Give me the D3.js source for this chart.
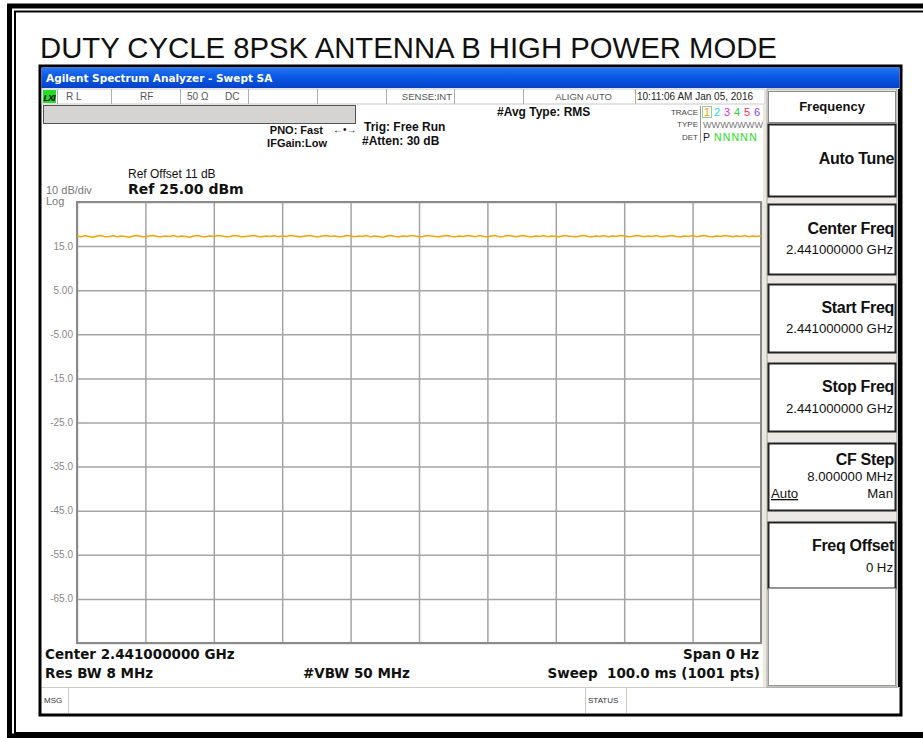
<!DOCTYPE html>
<html>
<head>
<meta charset="utf-8">
<script src="https://cdn.jsdelivr.net/npm/d3@7"></script>
<style>
  html, body { margin: 0; background: #fff; overflow: hidden; }
  svg { display: block; font-family: "Liberation Sans", Arial, sans-serif; }
  .tah { font-family: "DejaVu Sans", Verdana, sans-serif; }
</style>
</head>
<body>
<svg id="chart" width="923" height="738"></svg>
<script>
// ---- data ----
const titulo = "DUTY CYCLE 8PSK ANTENNA B HIGH POWER MODE";
const ref_nivel = 25;          // dBm, top of grid
const db_por_div = 10;
const qde_divs = 10;
const y_ticks = [15, 5, -5, -15, -25, -35, -45, -55, -65];
const y_labels = ["15.0", "5.00", "-5.00", "-15.0", "-25.0", "-35.0", "-45.0", "-55.0", "-65.0"];
const sweep_ms = 100;
// trace 1 (zero span, RMS) ~ 17.3 dBm, small ripple
const trace_dbm = [
  17.3, 17.1, 17.4, 17.2, 17.0, 17.3, 17.4, 17.1, 17.2, 17.4,
  17.1, 17.3, 17.2, 17.0, 17.3, 17.4, 17.2, 17.1, 17.3, 17.4,
  17.2, 17.1, 17.3, 17.2, 17.4, 17.1, 17.3, 17.2, 17.0, 17.3,
  17.4, 17.2, 17.1, 17.3, 17.2, 17.4, 17.3, 17.1, 17.2, 17.4,
  17.3, 17.1, 17.2, 17.3, 17.4, 17.2, 17.1, 17.3, 17.2, 17.4,
  17.1, 17.3, 17.2, 17.4, 17.3, 17.1, 17.2, 17.3, 17.4, 17.2,
  17.1, 17.3, 17.4, 17.2, 17.3, 17.1, 17.2, 17.4, 17.3, 17.1,
  17.3, 17.2, 17.4, 17.1, 17.3, 17.2, 17.0, 17.3, 17.4, 17.2,
  17.1, 17.3, 17.2, 17.4, 17.3, 17.1, 17.2, 17.4, 17.3, 17.2,
  17.1, 17.3, 17.4, 17.2, 17.1, 17.3, 17.2, 17.4, 17.3, 17.1,
  17.4, 17.2, 17.1, 17.3, 17.4, 17.1, 17.2, 17.4, 17.3, 17.1,
  17.3, 17.4, 17.2, 17.1, 17.3, 17.2, 17.4, 17.1, 17.3, 17.2,
  17.1, 17.4, 17.3, 17.2, 17.1, 17.3, 17.4, 17.2, 17.1, 17.3,
  17.2, 17.4, 17.1, 17.3, 17.2, 17.4, 17.3, 17.1, 17.2, 17.4,
  17.3, 17.1, 17.3, 17.2, 17.4, 17.1, 17.2, 17.3, 17.4, 17.2,
  17.1, 17.3, 17.2, 17.4, 17.1, 17.3, 17.4, 17.2, 17.1, 17.3,
  17.2, 17.4, 17.3, 17.1, 17.3, 17.2, 17.4, 17.1, 17.3, 17.2, 17.3
];
const status_itens = [
  {txt: "R L", x: 66}, {txt: "RF", x: 140}, {txt: "50 Ω", x: 187}, {txt: "DC", x: 225}
];
const status_sep = [57, 111, 180, 248, 317, 386, 454, 523, 635];
const trace_nums = ["1", "2", "3", "4", "5", "6"];
const trace_cores = ["#f0a000", "#20d8e8", "#e030d0", "#30d030", "#f03060", "#8040f0"];
const softkeys = [
  {y0: 124, y1: 196, label: "Auto Tune", ly: 164, vals: []},
  {y0: 204, y1: 274, label: "Center Freq", ly: 234, vals: [["2.441000000 GHz", 254]]},
  {y0: 284, y1: 352, label: "Start Freq", ly: 313, vals: [["2.441000000 GHz", 333]]},
  {y0: 363, y1: 431, label: "Stop Freq", ly: 392, vals: [["2.441000000 GHz", 413]]},
  {y0: 443, y1: 510, label: "CF Step", ly: 465, vals: [["8.000000 MHz", 481]]},
  {y0: 522, y1: 588, label: "Freq Offset", ly: 551, vals: [["0 Hz", 572]]}
];

const svg = d3.select("#chart");

// ---- outer double frame: top, left, bottom only (right side is off the picture) ----
const moldura = [
  {x: 9.5, y0: 6, y1: 736, w: 5},
  {x: 15, y0: 11.5, y1: 733, w: 2}
];
moldura.forEach(m => {
  const p = d3.path();
  p.moveTo(923, m.y0); p.lineTo(m.x, m.y0); p.lineTo(m.x, m.y1); p.lineTo(923, m.y1);
  svg.append("path").attr("d", p.toString()).attr("fill", "none")
    .attr("stroke", "#000").attr("stroke-width", m.w);
});

svg.append("text").attr("x", 40).attr("y", 58)
  .attr("font-size", 29.3).attr("fill", "#111").text(titulo);

// ---- analyzer screen ----
const scr = svg.append("g");
scr.append("rect").attr("x", 40).attr("y", 66).attr("width", 861).attr("height", 649)
  .attr("fill", "#fff").attr("stroke", "#000").attr("stroke-width", 3);

const defs = svg.append("defs");
const grad = defs.append("linearGradient").attr("id", "barra").attr("x1", 0).attr("y1", 0).attr("x2", 0).attr("y2", 1);
grad.append("stop").attr("offset", "0%").attr("stop-color", "#2a78f0");
grad.append("stop").attr("offset", "45%").attr("stop-color", "#0a58e6");
grad.append("stop").attr("offset", "100%").attr("stop-color", "#0442c8");
scr.append("rect").attr("x", 41.5).attr("y", 67.5).attr("width", 858).attr("height", 20.5)
  .attr("fill", "url(#barra)");
scr.append("text").attr("x", 46).attr("y", 82).attr("fill", "#fff").attr("class", "tah")
  .attr("font-weight", "bold").attr("font-size", 10.5)
  .text("Agilent Spectrum Analyzer - Swept SA");

// status row
scr.append("rect").attr("x", 42).attr("y", 89).attr("width", 723).attr("height", 15)
  .attr("fill", "#fff").attr("stroke", "#c8c8c8");
scr.selectAll("line.sep").data(status_sep).join("line").attr("class", "sep")
  .attr("x1", d => d + 0.5).attr("x2", d => d + 0.5).attr("y1", 89).attr("y2", 104)
  .attr("stroke", "#b0b0b0");
scr.append("rect").attr("x", 43).attr("y", 90).attr("width", 13).attr("height", 13).attr("fill", "#22dd22");
scr.append("text").attr("x", 43.5).attr("y", 100.5).attr("font-size", 9).attr("font-weight", "bold")
  .attr("font-style", "italic").attr("textLength", 12).text("LXI");
scr.selectAll("text.st").data(status_itens).join("text").attr("class", "st")
  .attr("x", d => d.x).attr("y", 100).attr("font-size", 10).attr("fill", "#555").text(d => d.txt);
scr.append("text").attr("x", 452).attr("y", 100).attr("text-anchor", "end")
  .attr("font-size", 9.5).attr("fill", "#555").text("SENSE:INT");
scr.append("text").attr("x", 612).attr("y", 100).attr("text-anchor", "end")
  .attr("font-size", 9.5).attr("fill", "#555").text("ALIGN AUTO");
scr.append("text").attr("x", 637).attr("y", 100)
  .attr("font-size", 10).attr("fill", "#222").text("10:11:06 AM Jan 05, 2016");

// gray message bar
scr.append("rect").attr("x", 43.5).attr("y", 105.5).attr("width", 312).attr("height", 18)
  .attr("fill", "#d6d3d3").attr("stroke", "#555");

const bold = (x, y, s, t, anchor) => scr.append("text").attr("x", x).attr("y", y)
  .attr("font-size", s).attr("font-weight", "bold").attr("fill", "#111")
  .attr("text-anchor", anchor || "start").text(t);
const tbold = (x, y, s, t, anchor) => bold(x, y, s, t, anchor).attr("class", "tah");

bold(323, 134, 11, "PNO: Fast", "end");
scr.append("text").attr("x", 333).attr("y", 133).attr("font-size", 10).attr("fill", "#111").text("←•→");
bold(327, 147, 11, "IFGain:Low", "end");
bold(364, 131, 12, "Trig: Free Run");
bold(362, 145, 12, "#Atten: 30 dB");
bold(497, 116, 12, "#Avg Type: RMS");

// trace legend
[["TRACE", 115], ["TYPE", 127], ["DET", 140]].forEach(([t, y]) => {
  scr.append("text").attr("x", 698).attr("y", y).attr("text-anchor", "end")
    .attr("font-size", 8).attr("fill", "#444").text(t);
});
scr.append("line").attr("x1", 700.5).attr("x2", 700.5).attr("y1", 106).attr("y2", 143).attr("stroke", "#999");
scr.append("rect").attr("x", 702.5).attr("y", 106.5).attr("width", 9).attr("height", 11)
  .attr("fill", "none").attr("stroke", "#9c9");
scr.selectAll("text.tn").data(trace_nums).join("text").attr("class", "tn")
  .attr("x", (d, i) => 704 + i * 10).attr("y", 116).attr("font-size", 11)
  .attr("fill", (d, i) => trace_cores[i]).text(d => d);
scr.append("text").attr("x", 703).attr("y", 128).attr("font-size", 9).attr("fill", "#777")
  .attr("textLength", 60).attr("lengthAdjust", "spacingAndGlyphs").text("WWWWWWW");
scr.append("text").attr("x", 703).attr("y", 141).attr("font-size", 10.5).attr("fill", "#222").text("P");
scr.append("text").attr("x", 714).attr("y", 141).attr("font-size", 10.5).attr("fill", "#2d2")
  .attr("letter-spacing", 1.2).text("NNNNN");

// ref labels
scr.append("text").attr("x", 128).attr("y", 178).attr("font-size", 12).attr("fill", "#111").text("Ref Offset 11 dB");
tbold(128, 194, 14, "Ref 25.00 dBm");
scr.append("text").attr("x", 46).attr("y", 194).attr("font-size", 11).attr("fill", "#777").text("10 dB/div");
scr.append("text").attr("x", 46).attr("y", 205).attr("font-size", 11).attr("fill", "#777").text("Log");

// ---- plot ----
const plot = {x0: 77, x1: 761, y0: 202, y1: 643};
const x = d3.scaleLinear().domain([0, sweep_ms]).range([plot.x0, plot.x1]);
const y = d3.scaleLinear().domain([ref_nivel - db_por_div * qde_divs, ref_nivel]).range([plot.y1, plot.y0]);

const gy = scr.append("g").attr("transform", `translate(${plot.x0},0)`)
  .call(d3.axisLeft(y).tickValues(d3.range(ref_nivel - db_por_div * qde_divs, ref_nivel + 1, db_por_div))
    .tickSize(-(plot.x1 - plot.x0)).tickFormat(""));
gy.select(".domain").remove();
gy.selectAll("line").attr("stroke", "#a4a4a4").attr("stroke-width", 1.5);

const gx = scr.append("g").attr("transform", `translate(0,${plot.y0})`)
  .call(d3.axisTop(x).tickValues(d3.range(0, sweep_ms + 1, sweep_ms / 10))
    .tickSize(-(plot.y1 - plot.y0)).tickFormat(""));
gx.select(".domain").remove();
gx.selectAll("line").attr("stroke", "#a4a4a4").attr("stroke-width", 1.5);

scr.append("rect").attr("x", plot.x0).attr("y", plot.y0).attr("width", plot.x1 - plot.x0)
  .attr("height", plot.y1 - plot.y0).attr("fill", "none").attr("stroke", "#8a8a8a").attr("stroke-width", 2);

scr.selectAll("text.yl").data(y_ticks).join("text").attr("class", "yl")
  .attr("x", 73).attr("y", d => y(d) + 3.5).attr("text-anchor", "end")
  .attr("font-size", 10).attr("fill", "#888").text((d, i) => y_labels[i]);

const passo = sweep_ms / (trace_dbm.length - 1);
scr.append("path").datum(trace_dbm)
  .attr("d", d3.line().x((d, i) => x(i * passo)).y(d => y(d)))
  .attr("fill", "none").attr("stroke", "#f5a300").attr("stroke-width", 1.5);

// strip right of plot
scr.append("rect").attr("x", 763).attr("y", 105).attr("width", 3).attr("height", 582).attr("fill", "#ece9d8");

// bottom labels
tbold(45, 659, 13.5, "Center 2.441000000 GHz");
tbold(45, 678, 13.5, "Res BW 8 MHz");
tbold(303, 678, 13.5, "#VBW 50 MHz");
tbold(759, 659, 13.5, "Span 0 Hz", "end");
tbold(760, 678, 13.5, "Sweep\u00a0\u00a0100.0 ms (1001 pts)", "end");

// msg bar
scr.append("line").attr("x1", 42).attr("x2", 900).attr("y1", 687.5).attr("y2", 687.5).attr("stroke", "#cfcac0");
[68, 585, 626].forEach(sx => scr.append("line").attr("x1", sx + 0.5).attr("x2", sx + 0.5)
  .attr("y1", 688).attr("y2", 713).attr("stroke", "#cfcac0"));
scr.append("text").attr("x", 44).attr("y", 703).attr("font-size", 8).attr("fill", "#333").text("MSG");
scr.append("text").attr("x", 588).attr("y", 703).attr("font-size", 8).attr("fill", "#333").text("STATUS");

// ---- softkey panel ----
const pk = {x0: 767, x1: 897};
scr.append("rect").attr("x", pk.x0).attr("y", 89).attr("width", pk.x1 - pk.x0).attr("height", 598)
  .attr("fill", "#ece9e4").attr("stroke", "#999");
scr.append("rect").attr("x", 898).attr("y", 89).attr("width", 3).attr("height", 598).attr("fill", "#000");
scr.append("rect").attr("x", pk.x0 + 1.5).attr("y", 91.5).attr("width", 127).attr("height", 31)
  .attr("fill", "#fff").attr("stroke", "#888");
bold(832, 111, 13, "Frequency", "middle");

softkeys.forEach(k => {
  scr.append("rect").attr("x", pk.x0 + 1.5).attr("y", k.y0 + 0.5).attr("width", 127).attr("height", k.y1 - k.y0)
    .attr("fill", "#fff").attr("stroke", "#222").attr("stroke-width", 2);
  bold(894, k.ly, 16, k.label, "end").attr("letter-spacing", -0.3);
  k.vals.forEach(([v, vy]) => scr.append("text").attr("x", 893).attr("y", vy)
    .attr("text-anchor", "end").attr("font-size", 13.2).attr("fill", "#111").text(v));
});
scr.append("text").attr("x", 771).attr("y", 498).attr("font-size", 13.2).attr("fill", "#111")
  .attr("text-decoration", "underline").text("Auto");
scr.append("text").attr("x", 893).attr("y", 498).attr("text-anchor", "end").attr("font-size", 13.2)
  .attr("fill", "#111").text("Man");
scr.append("rect").attr("x", pk.x0 + 1.5).attr("y", 588.5).attr("width", 127).attr("height", 97)
  .attr("fill", "#fff").attr("stroke", "#999");
</script>
</body>
</html>
